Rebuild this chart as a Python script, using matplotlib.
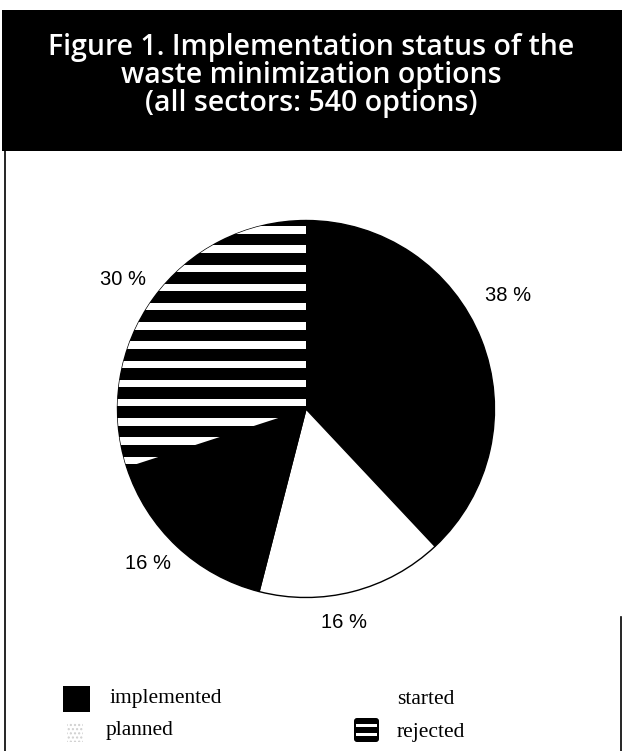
import numpy as np
import matplotlib
matplotlib.use("Agg")
import matplotlib.pyplot as plt
from matplotlib.patches import Rectangle, FancyBboxPatch
from matplotlib.lines import Line2D

# data
categories = ["implemented", "started", "planned", "rejected"]
shares = [38, 16, 16, 30]
title_lines = ["Figure 1. Implementation status of the",
               "waste minimization options",
               "(all sectors: 540 options)"]

W, H = 622, 751


def fx(px):
    return px / W


def fy(py):
    # pixel from top -> figure fraction from bottom
    return 1 - py / H


fig = plt.figure(figsize=(W / 100, H / 100), dpi=100)
fig.patch.set_facecolor("white")

# black title banner
fig.add_artist(Rectangle((fx(2), fy(151)), fx(620), 141 / H,
                         transform=fig.transFigure, facecolor="black",
                         edgecolor="none"))
for i, line in enumerate(title_lines):
    fig.text(0.5, fy(48 + 28 * i), line, ha="center", va="center",
             color="white", fontsize=20.5, family="Open Sans",
             weight="semibold")

# thin frame lines
fig.add_artist(Line2D([fx(5), fx(5)], [fy(151), 0], transform=fig.transFigure,
                      color="black", lw=1.2))
fig.add_artist(Line2D([fx(621), fx(621)], [fy(617), 0],
                      transform=fig.transFigure, color="black", lw=1.2))

# pie
R = 188.5
cx, cy = 306, 409
half = 210
ax = fig.add_axes([fx(cx - half), fy(cy + half), 2 * half / W, 2 * half / H])
wedges, _ = ax.pie(shares, colors=["black", "white", "black", "black"],
                   startangle=90, counterclock=False,
                   wedgeprops=dict(edgecolor="black", linewidth=1))
lim = half / R
ax.set_xlim(-lim, lim)
ax.set_ylim(-lim, lim)
ax.set_aspect("equal")
ax.axis("off")

# horizontal white stripes inside the "rejected" slice
rej = wedges[categories.index("rejected")]
pitch = 19.2 / R
thick = 7.3 / R
for yc in np.arange(0.95, -1.0, -pitch):
    band = Rectangle((-1.1, yc - thick / 2), 2.2, thick, facecolor="white",
                     edgecolor="none", zorder=3)
    ax.add_patch(band)
    band.set_clip_path(rej)

# percentage labels
label_dist = [1.23, 1.15, 1.17, 1.19]
label_nudge = [7.7, -4.4, -2.5, 0.7]
for w, v, d, n in zip(wedges, shares, label_dist, label_nudge):
    ang = np.deg2rad((w.theta1 + w.theta2) / 2 + n)
    ax.text(d * np.cos(ang), d * np.sin(ang), f"{v} %", ha="center",
            va="center", fontsize=14.5, family="Liberation Sans")

# legend drawn by hand
lg = fig.add_axes([0, 0, 1, 1 - 680 / H], facecolor="none")
lg.set_xlim(0, W)
lg.set_ylim(H, 680)
lg.axis("off")

# implemented: solid black box
lg.add_patch(Rectangle((63, 686), 27, 26, facecolor="black", edgecolor="none"))
# started: blank marker
# planned: faint dotted box
lg.add_patch(Rectangle((67, 722), 16, 20, facecolor="none",
                       edgecolor="#cfcfcf", hatch="....", linewidth=0))
# rejected: black box with white lines
lg.add_patch(FancyBboxPatch((354, 718), 25, 24,
                            boxstyle="round,pad=0,rounding_size=3",
                            facecolor="black", edgecolor="none"))
for yy in (724, 733):
    lg.add_patch(Rectangle((356, yy), 21, 2.5, facecolor="white",
                           edgecolor="none"))

leg_pos = {"implemented": (109, 698), "started": (397, 699),
           "planned": (106, 731), "rejected": (397, 732)}
for name in categories:
    x, y = leg_pos[name]
    lg.text(x, y, name, ha="left", va="center", fontsize=15.5,
            family="Liberation Serif")

fig.savefig("out.png", dpi=100)
